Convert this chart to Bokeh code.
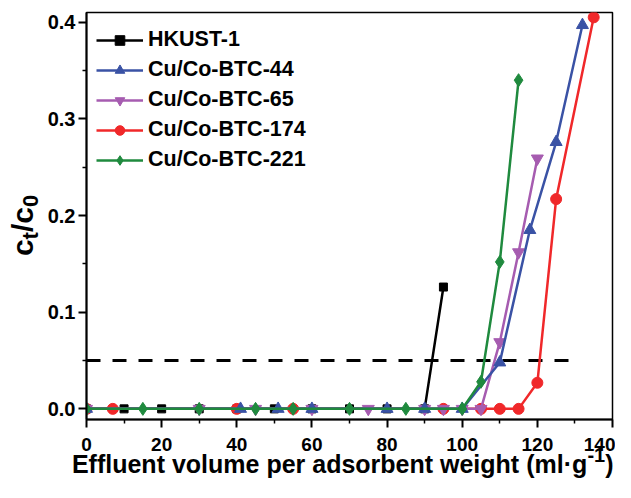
import math
from bokeh.plotting import figure
from bokeh.models import Range1d, FixedTicker, LinearAxis, Legend, LegendItem
from bokeh.embed import file_html
from bokeh.resources import INLINE

FONT = "Liberation Sans"

# ---------------- data ----------------
hkust_x = [0, 10, 20, 30, 40, 50, 60, 70, 80, 90, 95]
hkust_y = [0, 0, 0, 0, 0, 0, 0, 0, 0, 0, 0.126]

btc44_x = [0, 41, 51, 60, 80, 90, 100, 110, 118, 125, 132]
btc44_y = [0, 0, 0, 0, 0, 0, 0, 0.048, 0.185, 0.276, 0.397]

btc65_x = [0, 30, 45, 60, 75, 90, 95, 100, 105, 110, 115, 120]
btc65_y = [0, 0, 0, 0, 0, 0, 0, 0, 0, 0.069, 0.162, 0.259]

btc174_x = [0, 7, 40, 55, 95, 105, 110, 115, 120, 125, 135]
btc174_y = [0, 0, 0, 0, 0, 0, 0, 0, 0.027, 0.217, 0.405]

btc221_x = [0, 15, 30, 45, 55, 70, 85, 100, 105, 110, 115]
btc221_y = [0, 0, 0, 0, 0, 0, 0, 0, 0.028, 0.152, 0.340]

limit_x = [0, 130]
limit_y = [0.05, 0.05]

series_names = ["HKUST-1", "Cu/Co-BTC-44", "Cu/Co-BTC-65", "Cu/Co-BTC-174", "Cu/Co-BTC-221"]

x_ticks = [0, 20, 40, 60, 80, 100, 120, 140]
x_minor = [10, 30, 50, 70, 90, 110, 130]
y_ticks = [0.0, 0.1, 0.2, 0.3, 0.4]
y_tick_labels = ["0.0", "0.1", "0.2", "0.3", "0.4"]
y_minor = [0.05, 0.15, 0.25, 0.35]

# axis titles split into pieces (main text / raised or lowered parts)
x_title_main = "Effluent volume per adsorbent weight (ml\u00b7g"
x_title_sup = "-1"
x_title_close = ")"
y_title_main = ["c", "/c"]
y_title_sub = ["t", "0"]

# ---------------- figure ----------------
p = figure(width=615, height=482, output_backend="svg", toolbar_location=None,
           x_range=Range1d(0, 140), y_range=Range1d(-0.011, 0.41),
           min_border_left=86, min_border_right=3, min_border_top=12, min_border_bottom=63)
p.xgrid.visible = False
p.ygrid.visible = False
p.outline_line_color = "black"
p.outline_line_width = 1.5
p.background_fill_color = "white"
p.border_fill_color = "white"

for ax in (p.xaxis[0], p.yaxis[0]):
    ax.axis_line_width = 2
    ax.axis_line_color = "black"
    ax.major_tick_line_width = 2
    ax.minor_tick_line_width = 1.5
    ax.major_tick_out = 8
    ax.major_tick_in = 0
    ax.minor_tick_out = 4
    ax.minor_tick_in = 0
    ax.major_label_text_font = FONT
    ax.major_label_text_font_style = "bold"
    ax.major_label_text_color = "black"

p.xaxis.major_label_text_font_size = "19px"
p.yaxis.major_label_text_font_size = "20px"
p.xaxis.ticker = FixedTicker(ticks=x_ticks, minor_ticks=x_minor)
p.yaxis.ticker = FixedTicker(ticks=y_ticks, minor_ticks=y_minor)
p.yaxis.major_label_overrides = {t: l for t, l in zip(y_ticks, y_tick_labels)}
p.xaxis.major_label_standoff = 10
p.yaxis.major_label_standoff = 3


def title_axis(side, positions, texts, size, standoff, orientation="horizontal"):
    ax = LinearAxis(ticker=FixedTicker(ticks=positions, minor_ticks=[]),
                    major_label_overrides={pos: t for pos, t in zip(positions, texts)},
                    axis_line_color=None, major_tick_line_color=None,
                    minor_tick_line_color=None, major_tick_out=0, major_tick_in=0,
                    minor_tick_out=0, minor_tick_in=0,
                    major_label_text_font=FONT, major_label_text_font_style="bold",
                    major_label_text_font_size=size, major_label_text_color="black",
                    major_label_standoff=standoff,
                    major_label_orientation=orientation)
    p.add_layout(ax, side)
    return ax

# x title: main row first, superscript row after it pulled back up
title_axis("below", [64.7, 139.2], [x_title_main, x_title_close], "25px", -4)
title_axis("below", [135.7], [x_title_sup], "20px", -33)

# y title (rotated): main row first, subscript row pulled back towards the axis
title_axis("left", [0.1667, 0.1959], y_title_main, "30px", 5, "vertical")
title_axis("left", [0.1791, 0.2151], y_title_sub, "22px", -40, "vertical")

# threshold line
p.line(limit_x, limit_y, line_color="black", line_width=3, line_dash="14 12")

colors = ["#000000", "#3a52a5", "#a65cb0", "#f0282a", "#1f8a3e"]


def add_series(xs, ys, color, marker, size, name):
    lr = p.line(xs, ys, line_color=color, line_width=2.5)
    sr = p.scatter(xs, ys, marker=marker, size=size, fill_color=color, line_color=color)
    return LegendItem(label=name, renderers=[lr, sr])

it_h = add_series(hkust_x, hkust_y, colors[0], "square", 8, series_names[0])
it_174 = add_series(btc174_x, btc174_y, colors[3], "circle", 11, series_names[3])
it_65 = add_series(btc65_x, btc65_y, colors[2], "inverted_triangle", 12, series_names[2])
it_44 = add_series(btc44_x, btc44_y, colors[1], "triangle", 12, series_names[1])
it_221 = add_series(btc221_x, btc221_y, colors[4], "diamond", 13, series_names[4])

legend = Legend(items=[it_h, it_44, it_65, it_174, it_221], location=(10, 247),
                label_text_font=FONT, label_text_font_style="bold",
                label_text_font_size="21.5px", label_text_color="black",
                glyph_width=47, glyph_height=24, spacing=5, label_standoff=5,
                padding=0, margin=0, border_line_color=None,
                background_fill_alpha=0)
p.add_layout(legend)

open("out.html", "w").write(file_html(p, INLINE))
